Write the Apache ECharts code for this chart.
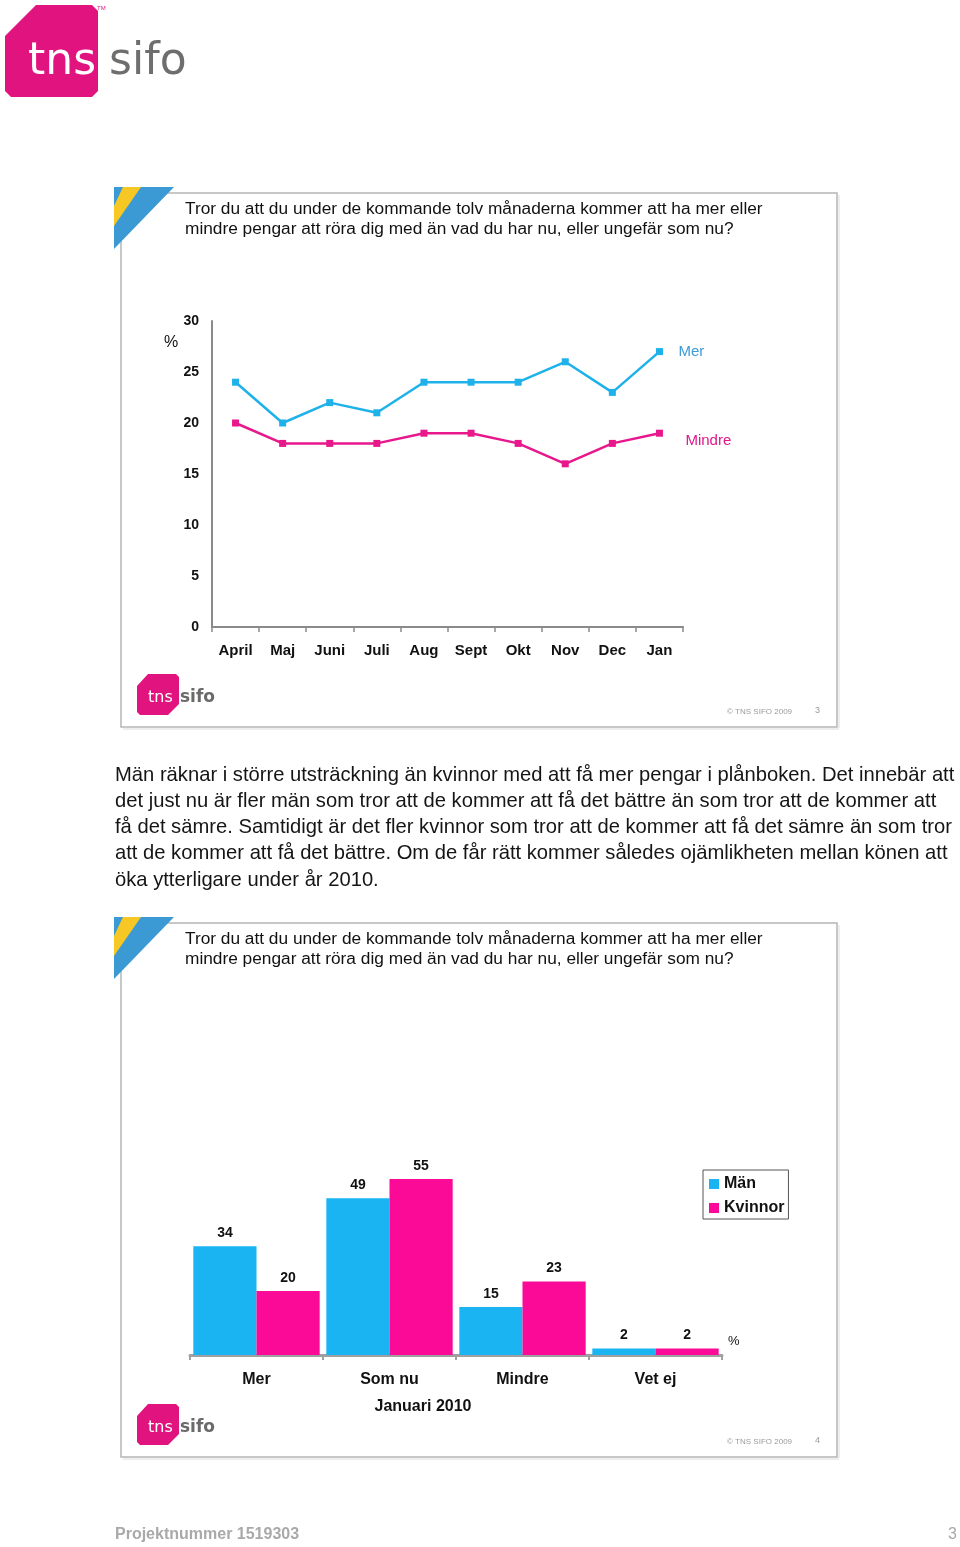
<!DOCTYPE html>
<html>
<head>
<meta charset="utf-8">
<script src="https://cdn.jsdelivr.net/npm/echarts@6/dist/echarts.min.js"></script>
<style>
html,body{margin:0;padding:0;background:#fff;}
#c{width:960px;height:1547px;}
</style>
</head>
<body>
<div id="c"></div>
<script>
const months = ['April','Maj','Juni','Juli','Aug','Sept','Okt','Nov','Dec','Jan'];
const merValues = [24,20,22,21,24,24,24,26,23,27];
const mindreValues = [20,18,18,18,19,19,18,16,18,19];
const barCategories = ['Mer','Som nu','Mindre','Vet ej'];
const manValues = [34,49,15,2];
const kvinnorValues = [20,55,23,2];

const questionLines = [
  'Tror du att du under de kommande tolv månaderna kommer att ha mer eller',
  'mindre pengar att röra dig med än vad du har nu, eller ungefär som nu?'
];
const paragraphLines = [
  'Män räknar i större utsträckning än kvinnor med att få mer pengar i plånboken. Det innebär att',
  'det just nu är fler män som tror att de kommer att få det bättre än som tror att de kommer att',
  'få det sämre. Samtidigt är det fler kvinnor som tror att de kommer att få det sämre än som tror',
  'att de kommer att få det bättre. Om de får rätt kommer således ojämlikheten mellan könen att',
  'öka ytterligare under år 2010.'
];

const BLUE = '#1eb1ea';
const PINK = '#e8178b';
const BAR_BLUE = '#1ab4f2';
const BAR_PINK = '#fb0a98';
const FONT = '"Liberation Sans", Arial, sans-serif';

function slideBox(y0, pageNo) {
  const els = [];
  els.push({type:'rect', shape:{x:121,y:y0+6,width:716,height:534}, style:{fill:'#fff', stroke:'#b5b5b5', lineWidth:1.5}});
  els.push({type:'line', shape:{x1:839,y1:y0+8,x2:839,y2:y0+541}, style:{stroke:'#dcdcdc', lineWidth:1}});
  els.push({type:'line', shape:{x1:123,y1:y0+542,x2:839,y2:y0+542}, style:{stroke:'#dcdcdc', lineWidth:1}});
  els.push({type:'polygon', shape:{points:[[114,y0],[174,y0],[114,y0+62]]}, style:{fill:'#3b9ad3'}});
  els.push({type:'polygon', shape:{points:[[123,y0],[141,y0],[114,y0+39],[114,y0+19]]}, style:{fill:'#f7c823'}});
  questionLines.forEach((t,i)=>{
    els.push({type:'text', x:185, y:y0+22+i*20, style:{text:t, font:'17.3px '+FONT, fill:'#111', verticalAlign:'middle'}});
  });
  const ly = y0 + 487;
  els.push({type:'polygon', shape:{points:[[137,ly+12],[148,ly],[176,ly],[179,ly+3],[179,ly+30],[168,ly+41],[140,ly+41],[137,ly+38]]}, style:{fill:'#e0137f'}});
  els.push({type:'text', x:148, y:ly+24, style:{text:'tns', font:'16px "DejaVu Sans"', fill:'#fff', verticalAlign:'middle'}});
  els.push({type:'text', x:180, y:ly+24, style:{text:'sifo', font:'bold 17px "DejaVu Sans"', fill:'#6a6a6a', verticalAlign:'middle'}});
  els.push({type:'text', x:727, y:y0+525, style:{text:'© TNS SIFO 2009', font:'8px '+FONT, fill:'#9a9a9a', verticalAlign:'middle'}});
  els.push({type:'text', x:815, y:y0+524, style:{text:String(pageNo), font:'9px '+FONT, fill:'#9a9a9a', verticalAlign:'middle'}});
  return els;
}

const graphics = [];
graphics.push({type:'polygon', shape:{points:[[5,36],[36,5],[92,5],[98,11],[98,91],[92,97],[11,97],[5,91]]}, style:{fill:'#e0137f'}});
graphics.push({type:'text', x:28, y:63, style:{text:'tns', font:'500 44px "DejaVu Sans"', fill:'#fff', verticalAlign:'middle'}});
graphics.push({type:'text', x:109, y:63, style:{text:'sifo', font:'500 44px "DejaVu Sans"', fill:'#6e6e6e', verticalAlign:'middle'}});
graphics.push({type:'text', x:97, y:8, style:{text:'TM', font:'6px '+FONT, fill:'#e0137f', verticalAlign:'middle'}});

graphics.push(...slideBox(187, 3));
graphics.push(...slideBox(917, 4));

graphics.push({type:'text', x:164, y:343, style:{text:'%', font:'16px '+FONT, fill:'#111', verticalAlign:'middle'}});
graphics.push({type:'text', x:728, y:1341, style:{text:'%', font:'13px '+FONT, fill:'#111', verticalAlign:'middle'}});
graphics.push({type:'text', x:423, y:1407, style:{text:'Januari 2010', font:'bold 16px '+FONT, fill:'#111', align:'center', verticalAlign:'middle'}});

paragraphLines.forEach((t,i)=>{
  graphics.push({type:'text', x:115, y:775+i*26.3, style:{text:t, font:'20.2px '+FONT, fill:'#151515', verticalAlign:'middle'}});
});

graphics.push({type:'text', x:115, y:1535, style:{text:'Projektnummer 1519303', font:'bold 16px '+FONT, fill:'#a9a9a9', verticalAlign:'middle'}});
graphics.push({type:'text', x:948, y:1535, style:{text:'3', font:'16px '+FONT, fill:'#a9a9a9', verticalAlign:'middle'}});

const chart = echarts.init(document.getElementById('c'), null, {renderer:'canvas'});
chart.setOption({
  animation:false,
  backgroundColor:'#fff',
  textStyle:{fontFamily:FONT},
  graphic:{elements:graphics},
  legend:{
    data:['Män','Kvinnor'],
    orient:'vertical', left:703, top:1170,
    itemWidth:10, itemHeight:10, itemGap:8,
    padding:[6,4,3,6],
    borderColor:'#555', borderWidth:1,
    icon:'rect',
    textStyle:{fontSize:16, fontWeight:'bold', color:'#111'}
  },
  grid:[
    {left:212, top:321, width:471, height:306},
    {left:190, top:1163, width:532, height:192}
  ],
  xAxis:[
    {gridIndex:0, type:'category', data:months, boundaryGap:true,
     axisLine:{lineStyle:{color:'#8a8a8a', width:2}},
     axisTick:{show:true, length:5, lineStyle:{color:'#8a8a8a', width:1.5}},
     axisLabel:{fontSize:15, fontWeight:'bold', color:'#111', margin:16, interval:0}},
    {gridIndex:1, type:'category', data:barCategories,
     axisLine:{lineStyle:{color:'#a0a0a0', width:3}},
     axisTick:{show:true, length:5, lineStyle:{color:'#a0a0a0', width:2}},
     axisLabel:{fontSize:16, fontWeight:'bold', color:'#111', margin:17}}
  ],
  yAxis:[
    {gridIndex:0, type:'value', min:0, max:30, interval:5,
     axisLine:{show:true, lineStyle:{color:'#8a8a8a', width:2}},
     axisTick:{show:false}, splitLine:{show:false},
     axisLabel:{fontSize:14, fontWeight:'bold', color:'#111', margin:13}},
    {gridIndex:1, type:'value', min:0, max:60, show:false, splitLine:{show:false}}
  ],
  series:[
    {name:'Mer', type:'line', xAxisIndex:0, yAxisIndex:0, data:merValues,
     symbol:'rect', symbolSize:7, lineStyle:{color:BLUE, width:2.5}, itemStyle:{color:BLUE},
     endLabel:{show:true, formatter:'Mer', color:'#3c9ad6', fontSize:15, distance:19}},
    {name:'Mindre', type:'line', xAxisIndex:0, yAxisIndex:0, data:mindreValues,
     symbol:'rect', symbolSize:7, lineStyle:{color:PINK, width:2.5}, itemStyle:{color:PINK},
     endLabel:{show:true, formatter:'Mindre', color:'#e0188c', fontSize:15, distance:26, offset:[0,8]}},
    {name:'Män', type:'bar', xAxisIndex:1, yAxisIndex:1, data:manValues,
     barGap:'0%', barCategoryGap:'5%', itemStyle:{color:BAR_BLUE},
     label:{show:true, position:'top', distance:6, fontSize:14, fontWeight:'bold', color:'#111'}},
    {name:'Kvinnor', type:'bar', xAxisIndex:1, yAxisIndex:1, data:kvinnorValues,
     barGap:'0%', barCategoryGap:'5%', itemStyle:{color:BAR_PINK},
     label:{show:true, position:'top', distance:6, fontSize:14, fontWeight:'bold', color:'#111'}}
  ]
});
</script>
</body>
</html>
